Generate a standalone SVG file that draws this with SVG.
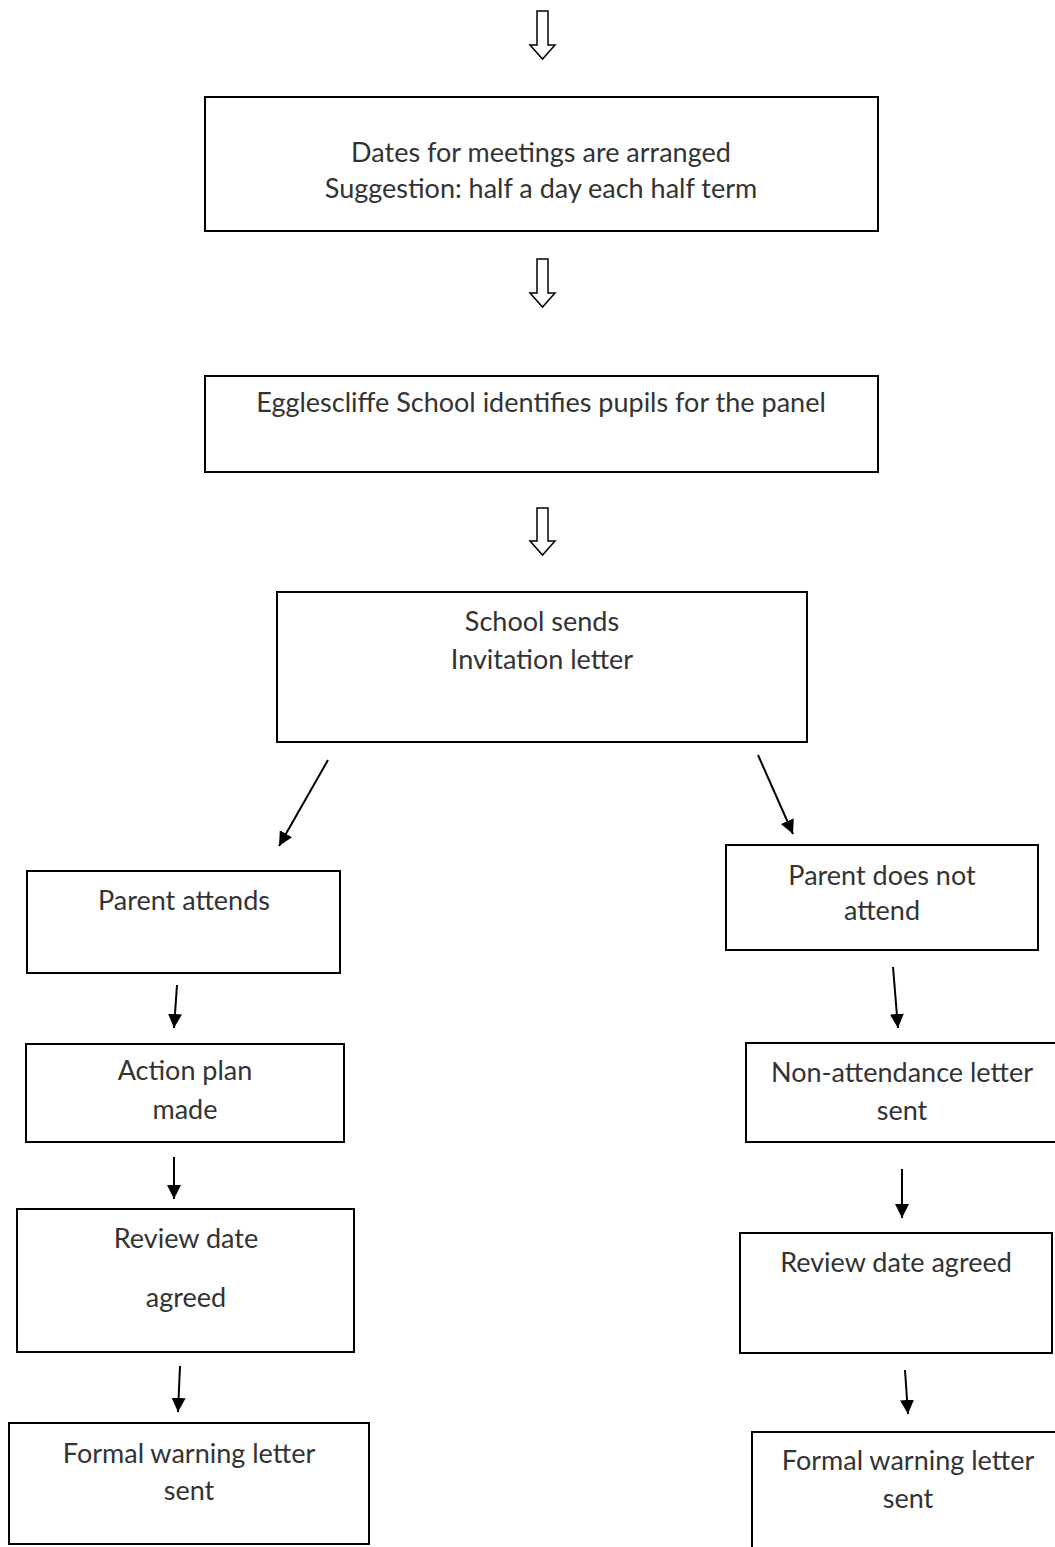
<svg xmlns="http://www.w3.org/2000/svg" width="1055" height="1547" viewBox="0 0 1055 1547">
<defs>
<style>
.box{fill:#fff;stroke:#000;stroke-width:2}
.t{font-family:Lato,"Liberation Sans",sans-serif;font-size:27px;fill:#333;text-anchor:middle}
.c{stroke:#000;stroke-width:2;fill:none}
.h{fill:#fff;stroke:#000;stroke-width:1.5}
</style>
<marker id="ah" markerUnits="userSpaceOnUse" markerWidth="14" markerHeight="16" refX="14" refY="7" orient="auto" viewBox="0 0 14 14">
<path d="M0,0 L14,7 L0,14 Z" fill="#000"/>
</marker>
</defs>
<rect width="1055" height="1547" fill="#fff"/>
<g id="connectors">
<polygon class="h" points="537,11 548,11 548,45 555,45 542.5,59 530,45 537,45"/>
<polygon class="h" points="537,259 548,259 548,293 555,293 542.5,307 530,293 537,293"/>
<polygon class="h" points="537,508 548,508 548,541 555,541 542.5,555 530,541 537,541"/>
<line class="c" x1="328" y1="760" x2="279" y2="846" marker-end="url(#ah)"/>
<line class="c" x1="758" y1="755" x2="793" y2="834" marker-end="url(#ah)"/>
<line class="c" x1="177" y1="985" x2="174" y2="1028" marker-end="url(#ah)"/>
<line class="c" x1="174" y1="1157" x2="174" y2="1199" marker-end="url(#ah)"/>
<line class="c" x1="180" y1="1366" x2="178" y2="1412" marker-end="url(#ah)"/>
<line class="c" x1="893" y1="967" x2="898" y2="1028" marker-end="url(#ah)"/>
<line class="c" x1="902" y1="1169" x2="902" y2="1218" marker-end="url(#ah)"/>
<line class="c" x1="905" y1="1370" x2="908" y2="1414" marker-end="url(#ah)"/>
</g>
<g id="n1"><rect class="box" x="205" y="97" width="673" height="134"/>
<text class="t" x="541" y="162">Dates for meetings are arranged</text>
<text class="t" x="541" y="198">Suggestion: half a day each half term</text></g>
<g id="n2"><rect class="box" x="205" y="376" width="673" height="96"/>
<text class="t" x="541" y="412">Egglescliffe School identifies pupils for the panel</text></g>
<g id="n3"><rect class="box" x="277" y="592" width="530" height="150"/>
<text class="t" x="542" y="631">School sends</text>
<text class="t" x="542" y="669">Invitation letter</text></g>
<g id="n4"><rect class="box" x="27" y="871" width="313" height="102"/>
<text class="t" x="184" y="910">Parent attends</text></g>
<g id="n5"><rect class="box" x="726" y="845" width="312" height="105"/>
<text class="t" x="882" y="885">Parent does not</text>
<text class="t" x="882" y="920">attend</text></g>
<g id="n6"><rect class="box" x="26" y="1044" width="318" height="98"/>
<text class="t" x="185" y="1080">Action plan</text>
<text class="t" x="185" y="1119">made</text></g>
<g id="n7"><rect class="box" x="17" y="1209" width="337" height="143"/>
<text class="t" x="186" y="1248">Review date</text>
<text class="t" x="186" y="1307">agreed</text></g>
<g id="n8"><rect class="box" x="9" y="1423" width="360" height="121"/>
<text class="t" x="189" y="1463">Formal warning letter</text>
<text class="t" x="189" y="1500">sent</text></g>
<g id="n9"><rect class="box" x="746" y="1043" width="320" height="99"/>
<text class="t" x="902" y="1082">Non-attendance letter</text>
<text class="t" x="902" y="1120">sent</text></g>
<g id="n10"><rect class="box" x="740" y="1233" width="312" height="120"/>
<text class="t" x="896" y="1272">Review date agreed</text></g>
<g id="n11"><rect class="box" x="752" y="1432" width="320" height="170"/>
<text class="t" x="908" y="1470">Formal warning letter</text>
<text class="t" x="908" y="1508">sent</text></g>
</svg>
